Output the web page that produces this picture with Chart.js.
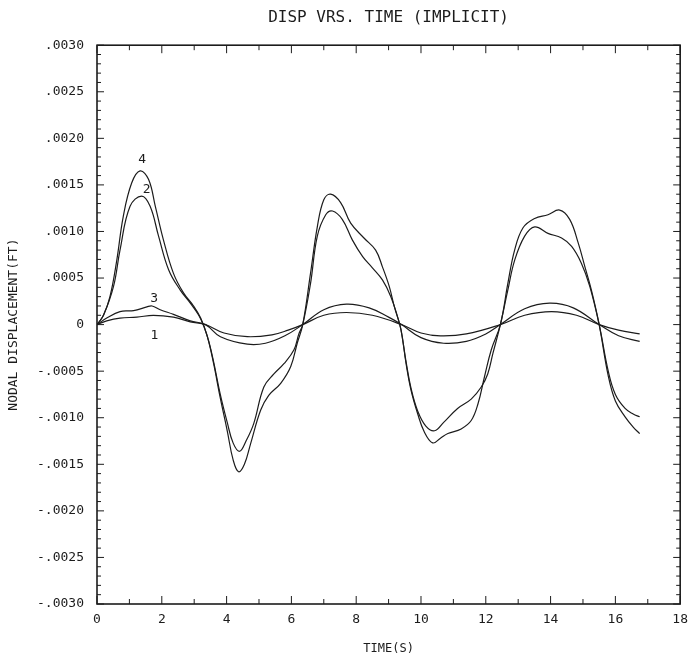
<!DOCTYPE html>
<html>
<head>
<meta charset="utf-8">
<title>DISP VRS. TIME (IMPLICIT)</title>
<script src="https://cdn.jsdelivr.net/npm/chart.js@4/dist/chart.umd.min.js"></script>
<style>
  body { margin: 0; background: #fff; }
  canvas { display: block; }
</style>
</head>
<body>
<canvas id="chart" width="688" height="660"></canvas>
<script>
// curve 1 (small)
const t1 = [0, 0.3, 0.71, 1.23, 1.74, 2.36, 2.88, 3.35, 3.92, 4.64, 5.4, 5.9, 6.35, 7.0, 7.7, 8.5, 9.4, 10.0, 10.6, 11.4, 12.45, 13.2, 14.03, 14.8, 15.5, 16.1, 16.75];
const d1 = [0, 0.00004, 0.00007, 0.00008, 0.0001, 0.00008, 0.00003, 0, -0.00009, -0.00013, -0.00011, -0.00006, 0, 0.0001, 0.00013, 0.0001, 0, -0.00009, -0.00012, -0.0001, 0, 0.0001, 0.00014, 0.0001, 0, -0.00006, -0.0001];

// curve 2
const t2 = [0, 0.2, 0.51, 0.71, 1.02, 1.38, 1.64, 1.9, 2.21, 2.57, 2.88, 3.14, 3.3, 3.45, 3.6, 3.8, 4.02, 4.2, 4.4, 4.6, 4.84, 5.15, 5.46, 5.77, 6.08, 6.23, 6.35,
            6.59, 6.8, 7.06, 7.27, 7.57, 7.88, 8.2, 8.5, 8.81, 9.07, 9.28, 9.38, 9.54, 9.69, 9.9, 10.15, 10.42, 10.7, 11.13, 11.55, 11.86, 12.06, 12.22, 12.45,
            12.68, 12.89, 13.2, 13.51, 13.92, 14.34, 14.65, 14.95, 15.21, 15.5, 15.78, 16.0, 16.3, 16.55, 16.75];
const d2 = [0, 0.0001, 0.00041, 0.0008, 0.00127, 0.00138, 0.00127, 0.00095, 0.00059, 0.00037, 0.00023, 0.0001, -0.00002, -0.00018, -0.0004, -0.00074, -0.00105, -0.00127, -0.00136, -0.00125, -0.00106, -0.00067, -0.00053, -0.00042, -0.00027, -0.0001, 0,
            0.00044, 0.00095, 0.00118, 0.00122, 0.00113, 0.00091, 0.00073, 0.00061, 0.00048, 0.0003, 0.00008, -0.00005, -0.0004, -0.00068, -0.00093, -0.00109, -0.00114, -0.00105, -0.0009, -0.0008, -0.00067, -0.00053, -0.00031, 0,
            0.00037, 0.00069, 0.00095, 0.00105, 0.00098, 0.00093, 0.00084, 0.00066, 0.00041, 0, -0.0005, -0.00075, -0.0009, -0.00096, -0.00099];

// curve 3 (small)
const t3 = [0, 0.3, 0.71, 1.13, 1.54, 1.7, 1.95, 2.36, 2.88, 3.35, 3.81, 4.64, 5.2, 5.8, 6.35, 7.0, 7.7, 8.4, 9.0, 9.4, 10.0, 10.7, 11.4, 12.0, 12.45, 13.2, 13.97, 14.7, 15.5, 16.1, 16.75];
const d3 = [0, 0.00007, 0.00014, 0.00015, 0.00019, 0.0002, 0.00016, 0.00011, 0.00004, 0, -0.00013, -0.00021, -0.0002, -0.00012, 0, 0.00016, 0.00022, 0.00018, 0.00008, 0, -0.00014, -0.0002, -0.00018, -0.0001, 0, 0.00017, 0.00023, 0.00018, 0, -0.00012, -0.00018];

// curve 4
const t4 = [0, 0.2, 0.4, 0.61, 0.81, 1.07, 1.33, 1.59, 1.8, 2.05, 2.36, 2.67, 2.98, 3.2, 3.4, 3.6, 3.8, 4.02, 4.2, 4.37, 4.55, 4.74, 5.05, 5.3, 5.67, 5.98, 6.18, 6.35,
            6.59, 6.8, 7.0, 7.21, 7.52, 7.83, 8.24, 8.6, 8.81, 9.02, 9.18, 9.38, 9.54, 9.69, 9.9, 10.1, 10.36, 10.6, 10.83, 11.24, 11.55, 11.76, 11.96, 12.17, 12.45,
            12.68, 12.89, 13.15, 13.51, 13.92, 14.28, 14.59, 14.85, 15.06, 15.26, 15.5, 15.78, 16.0, 16.3, 16.55, 16.75];
const d4 = [0, 0.0001, 0.0003, 0.00069, 0.00116, 0.00152, 0.00165, 0.00156, 0.00127, 0.00091, 0.00055, 0.00034, 0.0002, 0.00007, -0.00012, -0.00042, -0.00078, -0.00114, -0.00145, -0.00158, -0.0015, -0.00128, -0.00092, -0.00076, -0.00063, -0.00045, -0.0002, 0,
            0.00055, 0.00105, 0.00134, 0.0014, 0.00131, 0.00109, 0.00093, 0.0008, 0.00062, 0.00041, 0.00019, -0.00005, -0.00042, -0.0007, -0.00096, -0.00115, -0.00127, -0.00122, -0.00117, -0.00112, -0.00103, -0.00085, -0.00056, -0.00027, 0,
            0.00044, 0.0008, 0.00104, 0.00114, 0.00118, 0.00123, 0.00113, 0.00088, 0.00062, 0.00037, 0, -0.00055, -0.00082, -0.00099, -0.0011, -0.00117];

const xTicks = [0, 2, 4, 6, 8, 10, 12, 14, 16, 18];
const yTicks = [-0.003, -0.0025, -0.002, -0.0015, -0.001, -0.0005, 0, 0.0005, 0.001, 0.0015, 0.002, 0.0025, 0.003];

const curveNames = ['1', '2', '3', '4'];
const labelTimes = [1.74, 1.38, 1.7, 1.33];
const labelShift = [[1, 20], [5, -6], [2, -7], [2, -11]];

const ink = '#1c1c1c';
const mono = "'DejaVu Sans Mono', monospace";

function pts(t, d) {
  return t.map((v, i) => ({ x: v, y: d[i] }));
}

function fmtY(v) {
  if (Math.abs(v) < 1e-9) return '0';
  return (v < 0 ? '-' : '') + Math.abs(v).toFixed(4).slice(1);
}

const frameTicks = {
  id: 'frameTicks',
  afterDraw(chart) {
    const { ctx, chartArea: a, scales: { x, y } } = chart;
    ctx.save();
    ctx.strokeStyle = ink;
    ctx.lineWidth = 1.6;
    ctx.strokeRect(a.left, a.top, a.right - a.left, a.bottom - a.top);
    ctx.lineWidth = 1;
    ctx.beginPath();
    for (let k = -30; k <= 30; k++) {
      const py = y.getPixelForValue(k / 10000);
      const len = k % 5 === 0 ? 7 : 4;
      ctx.moveTo(a.left, py); ctx.lineTo(a.left + len, py);
      ctx.moveTo(a.right, py); ctx.lineTo(a.right - len, py);
    }
    for (let k = 0; k <= 18; k++) {
      const px = x.getPixelForValue(k);
      const len = k % 2 === 0 ? 8 : 5;
      ctx.moveTo(px, a.bottom); ctx.lineTo(px, a.bottom - len);
      ctx.moveTo(px, a.top); ctx.lineTo(px, a.top + len);
    }
    ctx.stroke();

    // curve numbers
    ctx.fillStyle = ink;
    ctx.font = '13px ' + mono;
    ctx.textAlign = 'center';
    ctx.textBaseline = 'middle';
    chart.data.datasets.forEach((ds, i) => {
      const meta = chart.getDatasetMeta(i);
      let best = 0;
      ds.data.forEach((p, j) => {
        if (Math.abs(p.x - labelTimes[i]) < Math.abs(ds.data[best].x - labelTimes[i])) best = j;
      });
      const el = meta.data[best];
      ctx.fillText(curveNames[i], el.x + labelShift[i][0], el.y + labelShift[i][1]);
    });
    ctx.restore();
  }
};

const series = [pts(t1, d1), pts(t2, d2), pts(t3, d3), pts(t4, d4)];

new Chart(document.getElementById('chart'), {
  type: 'line',
  data: {
    datasets: series.map((s, i) => ({
      label: curveNames[i],
      data: s,
      borderColor: ink,
      borderWidth: 1.2,
      pointRadius: 0,
      fill: false,
      tension: 0.4
    }))
  },
  options: {
    responsive: false,
    animation: false,
    layout: { padding: { left: 0, right: 7, top: 0, bottom: 0 } },
    plugins: {
      legend: { display: false },
      tooltip: { enabled: false },
      title: {
        display: true,
        fullSize: false,
        text: 'DISP VRS. TIME (IMPLICIT)',
        color: ink,
        font: { family: mono, size: 16, weight: 'normal' },
        padding: { top: 8, bottom: 18 }
      }
    },
    scales: {
      x: {
        type: 'linear',
        min: 0,
        max: 18,
        grid: { display: false },
        border: { display: false },
        afterBuildTicks: s => { s.ticks = xTicks.map(v => ({ value: v })); },
        afterFit: s => { s.height = 56; },
        ticks: { color: ink, font: { family: mono, size: 13 }, padding: 0, maxRotation: 0 },
        title: { display: true, text: 'TIME(S)', color: ink, font: { family: mono, size: 12 }, padding: { top: 2 } }
      },
      y: {
        type: 'linear',
        min: -0.003,
        max: 0.003,
        grid: { display: false },
        border: { display: false },
        afterBuildTicks: s => { s.ticks = yTicks.map(v => ({ value: v })); },
        afterFit: s => { s.width = 97; },
        ticks: { color: ink, font: { family: mono, size: 13 }, padding: 5, callback: v => fmtY(v) },
        title: { display: true, text: 'NODAL DISPLACEMENT(FT)', color: ink, font: { family: mono, size: 13 }, padding: { top: 6, bottom: 0 } }
      }
    }
  },
  plugins: [frameTicks]
});
</script>
</body>
</html>
